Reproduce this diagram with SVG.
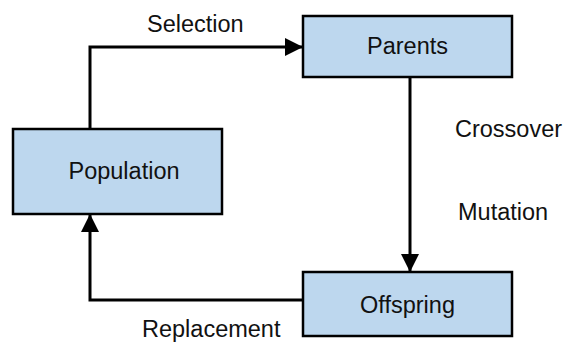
<svg xmlns="http://www.w3.org/2000/svg" width="568" height="342" viewBox="0 0 568 342">
  <style>
    .box { fill: #BDD7EE; stroke: #000; stroke-width: 2.5; }
    .lbl { font-family: "Liberation Sans", Arial, sans-serif; font-size: 23.5px; fill: #111; }
    .edge { fill: none; stroke: #000; stroke-width: 3; }
  </style>
  <defs>
    <marker id="arrow" markerUnits="userSpaceOnUse" viewBox="0 0 18 18" markerWidth="18" markerHeight="18" refX="17" refY="9" orient="auto">
      <path d="M0,0 L18,9 L0,18 z" fill="#000"/>
    </marker>
  </defs>
  <rect width="568" height="342" fill="#fff"/>
  <g id="connectors">
    <path class="edge" d="M90,129 V47 H302" marker-end="url(#arrow)"/>
    <path class="edge" d="M410,77 V271" marker-end="url(#arrow)"/>
    <path class="edge" d="M303,300 H90 V215" marker-end="url(#arrow)"/>
    <text class="lbl" x="147" y="32">Selection</text>
    <text class="lbl" x="455" y="137">Crossover</text>
    <text class="lbl" x="458" y="220">Mutation</text>
    <text class="lbl" x="142" y="337">Replacement</text>
  </g>
  <g id="parents">
    <rect class="box" x="303" y="16" width="209" height="61"/>
    <text class="lbl" x="407.5" y="54" text-anchor="middle">Parents</text>
  </g>
  <g id="population">
    <rect class="box" x="13" y="129" width="209" height="85"/>
    <text class="lbl" x="124" y="179" text-anchor="middle">Population</text>
  </g>
  <g id="offspring">
    <rect class="box" x="303" y="272" width="209" height="64"/>
    <text class="lbl" x="407.5" y="313" text-anchor="middle">Offspring</text>
  </g>
</svg>
